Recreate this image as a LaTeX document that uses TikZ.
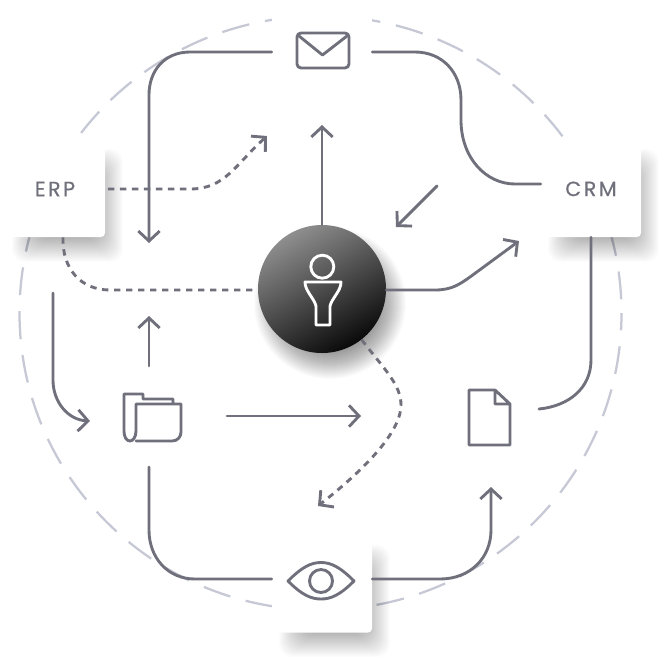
\documentclass[tikz,border=0pt]{standalone}
\usepackage{fontspec}
\newfontfamily\labelfont[LetterSpace=12,FakeBold=0.5]{Poppins}
\usetikzlibrary{arrows.meta}
\definecolor{ink}{HTML}{70707C}
\definecolor{ringc}{HTML}{C6C9D5}
\definecolor{hubtop}{HTML}{8E8E8E}
\definecolor{hubbot}{HTML}{0A0A0A}
\tikzset{
  x=0.75pt,y=-0.75pt,
  wire/.style={draw=ink,line width=2.15pt,line cap=round,line join=round},
  dotwire/.style={wire,line cap=butt,dash pattern=on 4.8pt off 4.2pt},
  tip/.style={-{Straight Barb[length=7.5pt,width=16pt,line width=2.15pt]}},
  icon/.style={draw=ink,line width=2.15pt,line join=round,line cap=round},
  card/.style={fill=white,rounded corners=3pt,minimum width=75pt,minimum height=70.5pt,inner sep=0pt,
     font=\labelfont\fontsize{15.5pt}{16pt}\selectfont,text=ink},
  spot/.style={inner sep=0pt,minimum size=1pt},
}
\newcommand{\softbox}[4]{%
  \foreach \r in {-16,-15,...,16}{%
    \fill[black,opacity=0.012,rounded corners=10pt] (#1-\r,#2-\r) rectangle (#3+\r,#4+\r);}}
\begin{document}
\begin{tikzpicture}
\useasboundingbox (0,0) rectangle (667,665);
\fill[white] (0,0) rectangle (667,665);
% ring
\draw[ringc,line width=1.7pt,dash pattern=on 21pt off 12pt,dash phase=8pt] (320.5,313) ellipse [x radius=301,y radius=297];
% shadows
\softbox{28}{165}{107}{246}
\softbox{564}{165}{643}{246}
\softbox{295}{561}{374}{641}
\foreach \r in {-14,-13,...,14}{\fill[black,opacity=0.016] (330,303) circle [radius=62+\r];}
% cards
\node[card] (erp) at (55,190) {\raisebox{1.5pt}{ERP}};
\node[card] (crm) at (591,190) {\raisebox{1.8pt}{CRM}};
\node[card] (eye) at (322,585.5) {};
% hub
\node[circle,minimum size=96pt,inner sep=0pt,top color=hubtop,bottom color=hubbot,shading angle=30] (hub) at (322,289) {};
% icon anchors
\node[spot,fill=white,minimum width=75pt,minimum height=60pt] (mail) at (322,45) {};
\node[spot,minimum width=43pt,minimum height=35pt] (folder) at (152.5,417.5) {};
\node[spot,minimum width=31pt,minimum height=41pt] (doc) at (489.5,417.5) {};
% free ends
\coordinate (a1) at (267,136);
\coordinate (a2) at (149,243);
\coordinate (a3) at (322,125);
\coordinate (a4s) at (437,186);
\coordinate (a4e) at (396,227);
\coordinate (a5) at (519,241);
\coordinate (a6) at (318,506);
\coordinate (a7s) at (53,293);
\coordinate (a7e) at (90,421);
\coordinate (a8e) at (149,316);
\coordinate (a8s) at (149,366);
\coordinate (a9s) at (227,416);
\coordinate (a9e) at (361,416);
\coordinate (a10) at (491,487);
% envelope
\draw[icon,rounded corners=3pt] (297,33) rectangle (349,68);
\draw[icon] (299,36) -- (322.5,55) -- (347,36);
% eye
\draw[icon] (288,581) .. controls (302,567) and (311,562.5) .. (321,562.5) .. controls (331,562.5) and (340,567) .. (354,581) .. controls (340,595) and (331,599) .. (321,599) .. controls (311,599) and (302,595) .. (288,581) -- cycle;
\draw[icon] (321,581) circle [radius=11.5];
% folder
\draw[icon] (136,441) -- (172,441) .. controls (177.5,441) and (181,437) .. (181,432) -- (181,404) -- (136,404) -- (136,431) .. controls (136,437) and (133,441) .. (130,441) .. controls (126.5,441) and (124,437) .. (124,431) -- (124,394) -- (143,394) -- (143,399) -- (173,399) -- (173,404);
% document
\draw[icon] (495,390) -- (469,390) -- (469,445) -- (510,445) -- (510,404) -- (495,390) -- (495,404) -- (510,404);
% person
\draw[white,line width=2.15pt] (322.3,266.7) circle [radius=11.5];
\draw[white,line width=2.15pt,line join=round] (305,282) -- (341,282) .. controls (341,291) and (332,298) .. (330,306) -- (330,325) -- (316,325) -- (316,306) .. controls (314,298) and (305,291) .. (305,282) -- cycle;
% connectors
\draw[wire,tip] (eye.west |- 0,52) -- (190,52) .. controls (165,52) and (149,70) .. (149,95) -- (a2);
\draw[wire] (eye.east |- 0,52) -- (415,52) .. controls (442,52) and (461,72) .. (461,100) -- (461,120) .. controls (461,158) and (486,184) .. (515,184) -- (crm.west |- 0,184);
\draw[dotwire,tip] ([xshift=2pt]erp.east |- 0,189) -- (190,189) .. controls (225,189) and (235,165) .. (a1);
\draw[dotwire] ([xshift=6pt]erp.south) .. controls (62,268) and (80,290) .. (110,290) -- (hub.west |- 0,290);
\draw[wire,tip] (hub.north) -- (a3);
\draw[wire,tip] (a4s) -- (a4e);
\draw[wire,tip] (hub.east |- 0,290) -- (435,290) .. controls (452,290) and (460,284) .. (470,277) -- (a5);
\draw[dotwire,tip] (hub.-52) .. controls (385,370) and (401,385) .. (401,405) .. controls (401,430) and (370,465) .. (a6);
\draw[wire,tip] (a7s) -- (53,380) .. controls (53,402) and (68,420) .. (a7e);
\draw[wire,tip] (a8s) -- (a8e);
\draw[wire,tip] (a9s) -- (a9e);
\draw[wire] (149,467) -- (149,530) .. controls (149,558) and (168,579) .. (195,579) -- (eye.west |- 0,579);
\draw[wire,tip] (eye.east |- 0,579) -- (440,579) .. controls (470,579) and (491,558) .. (491,530) -- (a10);
\draw[wire] (539,409) .. controls (569,406) and (591,388) .. (591,360) -- (crm.south);
\end{tikzpicture}
\end{document}
